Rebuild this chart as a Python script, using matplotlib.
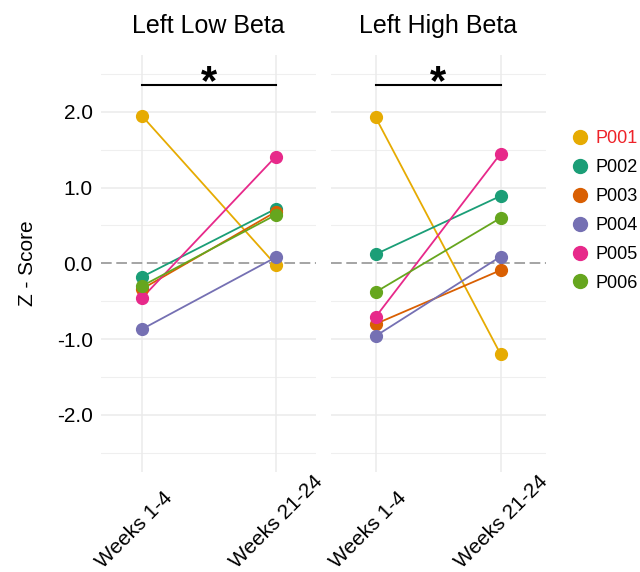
import matplotlib.pyplot as plt
from matplotlib.lines import Line2D
from matplotlib import transforms

plt.rcParams['font.family'] = ['Liberation Sans', 'DejaVu Sans']

# Datos: Z-score por participante, semanas 1-4 vs 21-24
participantes = ['P001', 'P002', 'P003', 'P004', 'P005', 'P006']
colores = ['#E6AB02', '#1B9E77', '#D95F02', '#7570B3', '#E7298A', '#66A61E']
semanas = ['Weeks 1-4', 'Weeks 21-24']
paneles = ['Left Low Beta', 'Left High Beta']

low_inicio = [1.95, -0.18, -0.34, -0.87, -0.46, -0.30]
low_final = [-0.02, 0.72, 0.68, 0.08, 1.41, 0.64]
high_inicio = [1.93, 0.12, -0.80, -0.96, -0.71, -0.38]
high_final = [-1.20, 0.89, -0.09, 0.09, 1.45, 0.60]

datos = [(low_inicio, low_final), (high_inicio, high_final)]
limites_x = [(0.696, 2.30), (0.642, 2.36)]
izquierdas = [101 / 640, 330.7 / 640]

fig = plt.figure(figsize=(6.4, 5.72), dpi=100)
x = [1, 2]

for k, (titulo, (ini, fin)) in enumerate(zip(paneles, datos)):
    ax = fig.add_axes([izquierdas[k], 0.1753, 215 / 640, 0.7285])

    # rejilla estilo minimal
    for y in [-2.5, -1.5, -0.5, 0.5, 1.5, 2.5]:
        ax.axhline(y, color='#EFEFEF', lw=0.8, zorder=0)
    for y in [-2, -1, 1, 2]:
        ax.axhline(y, color='#EBEBEB', lw=1.1, zorder=0)
    for xi in x:
        ax.axvline(xi, color='#EBEBEB', lw=1.1, zorder=0)
    ax.axhline(0, color='#8C8C8C', lw=1.1, dashes=(7, 3), zorder=1)

    # lineas y puntos de cada participante
    for i, p in enumerate(participantes):
        ax.plot(x, [ini[i], fin[i]], color=colores[i], lw=1.3, zorder=2)
    for i, p in enumerate(participantes):
        ax.plot(x, [ini[i], fin[i]], 'o', color=colores[i], ms=8.5, zorder=3)

    # barra de significancia
    ax.plot(x, [2.36, 2.36], color='black', lw=1.5, zorder=3)
    ax.text(1.5, 2.23, '*', ha='center', va='baseline', fontsize=30,
            fontweight='bold')

    ax.set_xlim(*limites_x[k])
    ax.set_ylim(-2.75, 2.75)
    ax.set_title(titulo, fontsize=18, pad=16)
    for s in ax.spines.values():
        s.set_visible(False)
    ax.tick_params(length=0)
    ax.set_xticks(x)
    ax.set_xticklabels([])
    ax.set_yticks([-2, -1, 0, 1, 2])
    if k == 0:
        ax.set_yticklabels(['-2.0', '-1.0', '0.0', '1.0', '2.0'], fontsize=15)
        ax.tick_params(axis='y', pad=6)
        ax.set_ylabel('Z - Score', fontsize=15, labelpad=14)
    else:
        ax.set_yticklabels([])

    # etiquetas del eje x giradas 45 grados
    trans = transforms.blended_transform_factory(ax.transData, ax.transAxes)
    trans = trans + transforms.ScaledTranslation(-39 / 100, 0, fig.dpi_scale_trans)
    for xi, s in zip(x, semanas):
        ax.text(xi, -0.2335, s, transform=trans, rotation=45,
                rotation_mode='anchor', ha='left', va='baseline', fontsize=15)

leg = fig.legend(handles=[Line2D([], [], marker='o', ls='', color=c, ms=10)
                          for c in colores],
                 labels=participantes, loc='center left',
                 bbox_to_anchor=(571 / 640, 1 - 211 / 572), frameon=False,
                 fontsize=13, handlelength=1.0, handletextpad=0.35,
                 labelspacing=0.66, borderpad=0, borderaxespad=0)
leg.get_texts()[0].set_color('#EE2229')

fig.savefig('out.png', dpi=100)
